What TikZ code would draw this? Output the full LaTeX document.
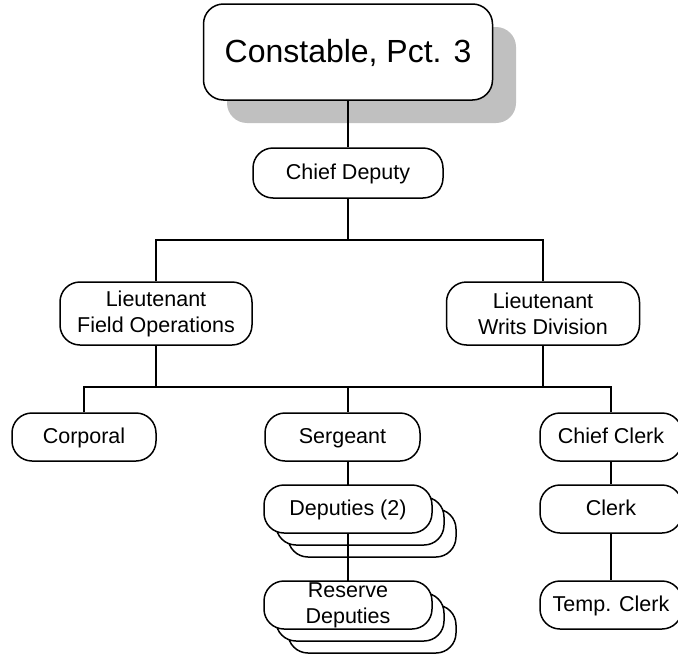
\documentclass[tikz,border=0pt]{standalone}
\usepackage{fontspec}
\setmainfont{Liberation Sans}
\definecolor{shadowgray}{RGB}{192,192,192}
\begin{document}
\begin{tikzpicture}[x=1pt,y=-1pt,
  box/.style={draw=black,fill=white,line width=1.5pt,rounded corners=20pt,align=center,inner sep=0pt,
    font=\fontsize{21.5}{26}\selectfont},
  small/.style={box,minimum height=48pt},
  one/.style={text height=15.5pt,text depth=2pt},
  conn/.style={line width=1.5pt}]
\useasboundingbox (0,0) rectangle (678,656);
% top
\fill[shadowgray,rounded corners=20pt] (227,27) rectangle (516,123);
\node[box,minimum width=289pt,minimum height=96pt,font=\fontsize{32}{38}\selectfont,text height=23pt,text depth=2pt] (top) at (348,52) {Constable, Pct. 3};
\node[box,one,minimum width=190pt,minimum height=50pt] (cd) at (348,173) {Chief Deputy};
\node[box,minimum width=192pt,minimum height=63pt] (lf) at (156,313.5) {Lieutenant\\Field Operations};
\node[box,minimum width=193pt,minimum height=63pt] (lw) at (543,313.5) {Lieutenant\\Writs Division};
\node[small,one,minimum width=144pt] (corp) at (84,437) {Corporal};
\node[small,one,minimum width=155pt] (serg) at (342.5,437) {Sergeant};
\node[small,one,minimum width=142pt] (cc) at (611,437) {Chief Clerk};
% stacked deputies
\node[small,minimum width=168pt] (dep3) at (372,533) {};
\node[small,minimum width=168pt] (dep2) at (360,521) {};
\node[small,minimum width=168pt] (rd3) at (372,629) {};
\node[small,minimum width=168pt] (rd2) at (360,617) {};
\coordinate (b1) at (348,240);
\coordinate (b2) at (348,387);
\node[small,one,minimum width=142pt] (clerk) at (611,509) {Clerk};
\node[small,one,minimum width=142pt] (tc) at (611,605) {Temp. Clerk};
% connectors
\draw[conn] (top.south) -- (cd.north);
\draw[conn] (cd.south) -- (b1);
\draw[conn] (lf.north) |- (b1) -| (lw.north);
\draw[conn] (lf.south) |- (b2) -| (lw.south);
\draw[conn] (corp.north) |- (b2) -| (cc.north);
\draw[conn] (b2) -- (b2 |- serg.north);
\draw[conn] (cc.south) -- (clerk.north);
\draw[conn] (clerk.south) -- (tc.north);
\coordinate (s1) at (b2 |- serg.south);
\coordinate (r1) at (348,581);
\draw[conn] (s1) -- (r1);
\node[small,one,minimum width=168pt] (dep) at (348,509) {Deputies (2)};
\node[small,minimum width=168pt] (rd) at (348,605) {Reserve\\Deputies};
\draw[conn] (dep.south) -- (rd.north);
\end{tikzpicture}
\end{document}
